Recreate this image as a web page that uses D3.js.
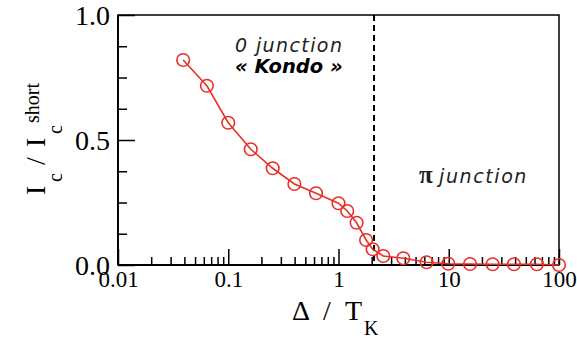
<!DOCTYPE html>
<html><head><meta charset="utf-8">
<script src="https://cdn.jsdelivr.net/npm/d3@7"></script>
<style>body{margin:0;background:#fff}svg{display:block}</style>
</head><body>
<svg id="c" width="577" height="342"></svg>
<script>
const xValues = [0.039, 0.064, 0.1, 0.16, 0.253, 0.398, 0.625, 1.0, 1.2, 1.46, 1.78, 2.04, 2.55, 3.87, 6.3, 9.9, 15.6, 25, 39, 63, 100];
const yValues = [0.82, 0.717, 0.569, 0.463, 0.387, 0.324, 0.287, 0.247, 0.216, 0.169, 0.1, 0.063, 0.036, 0.027, 0.011, 0.005, 0.004, 0.003, 0.003, 0.003, 0.0];
const xTickLabels = ["0.01", "0.1", "1", "10", "100"];
const yTickLabels = ["0.0", "0.5", "1.0"];
const transition = 2.1;

const svg = d3.select("#c");
const L = 118, R = 559, T = 15, B = 265;
const red = "#e8302a";
const serif = "'Liberation Serif','Times New Roman',serif";
const sans = "'DejaVu Sans',Verdana,sans-serif";

const x = d3.scaleLog().domain([0.01, 100]).range([L, R]);
const y = d3.scaleLinear().domain([0, 1]).range([B, T]);

// frame
svg.append("rect").attr("x", L).attr("y", T).attr("width", R - L).attr("height", B - T)
  .attr("fill", "none").attr("stroke", "#000").attr("stroke-width", 1.5);
svg.append("line").attr("x1", L).attr("x2", L).attr("y1", T).attr("y2", B).attr("stroke", "#000").attr("stroke-width", 2);
svg.append("line").attr("x1", L).attr("x2", R).attr("y1", B).attr("y2", B).attr("stroke", "#000").attr("stroke-width", 2);

// x ticks (inward)
const xMinor = [];
for (let d = 0.01; d < 100; d *= 10) for (let k = 2; k <= 9; k++) xMinor.push(d * k);
const xMajor = xTickLabels.map(Number);
const xAxis = svg.append("g").attr("transform", `translate(0,${B})`)
  .call(d3.axisBottom(x).tickValues(xMinor).tickSize(-8).tickFormat(""));
const xAxisMaj = svg.append("g").attr("transform", `translate(0,${B})`)
  .call(d3.axisBottom(x).tickValues(xMajor).tickSize(-16).tickFormat((d, i) => xTickLabels[i]));
[xAxis, xAxisMaj].forEach(g => {
  g.select(".domain").remove();
  g.selectAll(".tick line").attr("stroke", "#000").attr("stroke-width", 1.5);
});
xAxisMaj.selectAll(".tick text").attr("y", 22).attr("dy", 0)
  .attr("font-family", serif).attr("font-size", 23).attr("fill", "#000");

// y ticks (inward)
const yMinor = d3.range(0, 1.0001, 0.125).filter(v => Math.abs(v * 2 - Math.round(v * 2)) > 1e-6);
const yMajor = yTickLabels.map(Number);
const yAxis = svg.append("g").attr("transform", `translate(${L},0)`)
  .call(d3.axisLeft(y).tickValues(yMinor).tickSize(-9).tickFormat(""));
const yAxisMaj = svg.append("g").attr("transform", `translate(${L},0)`)
  .call(d3.axisLeft(y).tickValues(yMajor).tickSize(-17).tickFormat((d, i) => yTickLabels[i]));
[yAxis, yAxisMaj].forEach(g => {
  g.select(".domain").remove();
  g.selectAll(".tick line").attr("stroke", "#000").attr("stroke-width", 1.5);
});
yAxisMaj.selectAll(".tick text").attr("x", -8).attr("dy", "0.34em")
  .attr("font-family", serif).attr("font-size", 28).attr("fill", "#000");

// dashed transition line
svg.append("line").attr("x1", x(transition)).attr("x2", x(transition)).attr("y1", T).attr("y2", B)
  .attr("stroke", "#000").attr("stroke-width", 2).attr("stroke-dasharray", "6,4");

// data
const data = xValues.map((v, i) => [v, yValues[i]]);
svg.append("path").datum(data)
  .attr("d", d3.line().x(d => x(d[0])).y(d => y(d[1])))
  .attr("fill", "none").attr("stroke", red).attr("stroke-width", 1.6);
svg.append("g").selectAll("circle").data(data).join("circle")
  .attr("cx", d => x(d[0])).attr("cy", d => y(d[1])).attr("r", 6.3)
  .attr("fill", "none").attr("stroke", red).attr("stroke-width", 1.6);

// annotations
svg.append("text").attr("x", 235).attr("y", 52)
  .attr("font-family", sans).attr("font-style", "italic").attr("font-size", 19)
  .attr("letter-spacing", 1.4).attr("fill", "#222").text("0 junction");
svg.append("text").attr("x", 235).attr("y", 73)
  .attr("font-family", sans).attr("font-style", "italic").attr("font-weight", "bold").attr("font-size", 19.5)
  .attr("fill", "#000").text("« Kondo »");
const pi = svg.append("text").attr("x", 419).attr("y", 183)
  .attr("fill", "#222");
pi.append("tspan").attr("font-family", serif).attr("font-weight", "bold").attr("font-size", 25).text("π");
pi.append("tspan").attr("x", 439).attr("font-family", sans).attr("font-style", "italic").attr("font-size", 19)
  .attr("letter-spacing", 1.6).text("junction");

// x axis title
const xt = svg.append("text").attr("y", 320)
  .attr("font-family", serif).attr("font-size", 28).attr("fill", "#000");
xt.append("tspan").attr("x", 292).text("Δ");
xt.append("tspan").attr("x", 323).text("/");
xt.append("tspan").attr("x", 345).text("T");
xt.append("tspan").attr("x", 364).attr("font-size", 20).attr("dy", 15).text("K");

// y axis title (local x' maps to screen y = 140 - x')
const yt = svg.append("text").attr("transform", "translate(45,140) rotate(-90)")
  .attr("font-family", serif).attr("font-size", 28).attr("fill", "#000");
yt.append("tspan").attr("x", -55).text("I");
yt.append("tspan").attr("x", -42).attr("font-size", 20).attr("dy", 17).text("c");
yt.append("tspan").attr("x", -25).attr("dy", -17).text("/");
yt.append("tspan").attr("x", -7).text("I");
yt.append("tspan").attr("x", 6).attr("font-size", 20).attr("dy", 17).text("c");
yt.append("tspan").attr("x", 17).attr("font-size", 20).attr("dy", -23).text("short");
</script>
</body></html>
